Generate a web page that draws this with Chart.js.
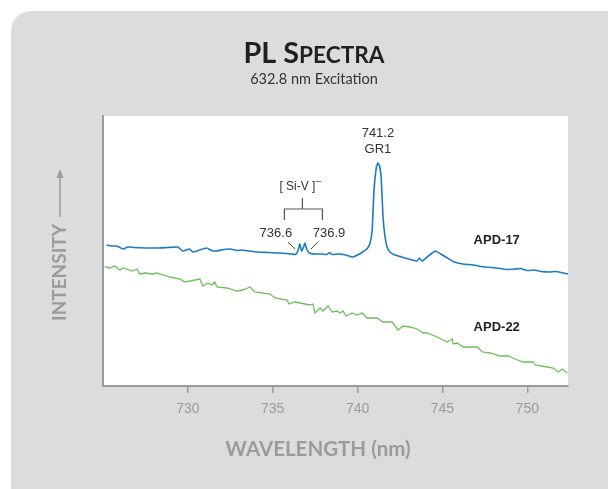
<!DOCTYPE html>
<html>
<head>
<meta charset="utf-8">
<script src="https://cdn.jsdelivr.net/npm/chart.js@4.4.1/dist/chart.umd.min.js"></script>
<style>
html,body{margin:0;padding:0;background:#fff;}
#wrap{width:608px;height:489px;position:relative;}
canvas{display:block;}
</style>
</head>
<body>
<div id="wrap"><canvas id="c" width="608" height="489"></canvas></div>
<script>
// ---- Data (wavelength in nm, intensity in arbitrary units) ----
const titleText = 'PL SPECTRA';
const subtitleText = '632.8 nm Excitation';
const xAxisTitle = 'WAVELENGTH (nm)';
const yAxisTitle = 'INTENSITY';
const xTickValues = [730, 735, 740, 745, 750];
const seriesNames = ['APD-17', 'APD-22'];

const apd17Wl = [725.2,725.5,725.8,726.0,726.2,726.45,726.8,727.5,728.2,728.8,729.4,729.7,730.1,730.3,730.7,731.1,731.4,731.7,732.1,732.5,732.9,733.2,733.6,734.1,734.7,735.3,735.8,736.1,736.35,736.5,736.6,736.7,736.8,736.9,737.0,737.15,737.5,737.9,738.2,738.35,738.5,738.9,739.3,739.7,740.0,740.3,740.6,740.75,740.86,740.97,741.1,741.2,741.3,741.39,741.5,741.62,741.74,741.9,742.2,742.6,743.0,743.5,743.65,743.8,744.1,744.4,744.6,744.9,745.3,745.7,746.2,746.8,747.5,748.2,748.8,749.3,749.6,750.0,750.4,750.8,751.3,751.7,752.4];
const apd17Int = [141,140,140,138.5,137,139,138.5,138,138,138.5,139,135,137,134,136,138,135.5,135,136.5,137,135.5,136,135,134,133.5,133,132.5,132,131.5,136,142,135,138,143,137,133,132,132,131.5,133.5,131.5,132,131,129,131,134,138,144,156,196,218,223,220,209,169,149,139,134,131,129,127,125,128,125,129,133,135,132,128,124,122,121,119,118,116.5,117,117.5,115.5,116,114.5,114,114.5,112];

const apd22Wl = [725.10,725.40,725.69,725.99,726.17,726.76,726.99,727.17,727.46,727.94,728.17,728.94,729.53,729.82,730.71,730.88,731.18,731.42,731.59,731.71,732.30,732.89,733.24,733.66,733.95,734.84,735.13,735.84,735.96,736.31,736.61,737.20,737.37,737.49,737.79,737.96,738.26,738.50,738.79,738.97,739.14,739.32,739.68,739.97,740.27,740.56,741.15,741.50,742.04,742.39,742.68,743.10,743.51,743.86,744.10,744.69,745.28,745.58,745.63,745.87,746.22,747.05,747.35,747.82,748.41,748.88,749.29,749.76,750.35,750.47,751.18,751.53,751.83,752.06,752.36];
const apd22Int = [119.3,118,120,116,118,115,117,112,113,112,113,109,107,104,107,100,103,101,104,99,98,95,96,99,94,92,88,86,82,84,83,81,82,73,78,75,80,74,75,73,75,70,73,71,73,68,68,64,64,56,60,59,57,53,53,49,44,47,42,43,39,39,34,33,30,30,27,24,24,21,19,18,14,17,13];

// Annotated peaks
const grPeakWl = 741.2;
const siVPeaksWl = [736.6, 736.9];

const toPoints = (xs, ys) => xs.map((x, i) => ({x: x, y: ys[i]}));

const FONT_SANS = "'Liberation Sans', Arial, sans-serif";
const FONT_TITLE = "Lato, 'Open Sans', sans-serif";

const decorPlugin = {
  id: 'decor',
  beforeDraw(chart) {
    const {ctx, chartArea: a} = chart;
    ctx.save();
    ctx.fillStyle = '#ffffff';
    ctx.fillRect(0, 0, chart.width, chart.height);
    ctx.fillStyle = '#dcdcde';
    ctx.beginPath();
    ctx.roundRect(11, 11, 640, 540, 20);
    ctx.fill();
    ctx.fillStyle = '#ffffff';
    ctx.fillRect(a.left, a.top, a.right - a.left, a.bottom - a.top);
    ctx.restore();
  },
  afterDraw(chart) {
    const {ctx} = chart;
    const xs = chart.scales.x;
    ctx.save();

    // Title with small caps
    const parts = [{t: 'PL S', s: 28}, {t: 'PECTRA', s: 22}];
    let total = 0;
    parts.forEach(p => { ctx.font = `bold ${p.s}px ${FONT_TITLE}`; p.w = ctx.measureText(p.t).width; total += p.w; });
    const k = 141 / total;
    let tx = 314 - 141 / 2;
    ctx.fillStyle = '#231f20';
    ctx.textBaseline = 'alphabetic';
    ctx.textAlign = 'left';
    parts.forEach(p => { ctx.font = `bold ${p.s * k}px ${FONT_TITLE}`; ctx.fillText(p.t, tx, 63); tx += p.w * k; });

    // Subtitle
    ctx.font = `14.5px ${FONT_TITLE}`;
    ctx.fillStyle = '#333333';
    ctx.textAlign = 'center';
    ctx.textBaseline = 'middle';
    ctx.fillText(subtitleText, 314, 79);

    // X axis title
    ctx.font = `bold 20.5px ${FONT_TITLE}`;
    ctx.fillStyle = '#9b9b9b';
    ctx.fillText(xAxisTitle, 318, 449);

    // Y axis title with arrow
    ctx.save();
    ctx.translate(60, 272.5);
    ctx.rotate(-Math.PI / 2);
    ctx.font = `bold 19px ${FONT_TITLE}`;
    ctx.fillStyle = '#9b9b9b';
    ctx.fillText(yAxisTitle, 0, 0);
    const w = ctx.measureText(yAxisTitle).width;
    ctx.strokeStyle = '#9b9b9b';
    ctx.lineWidth = 1.5;
    ctx.beginPath();
    ctx.moveTo(w / 2 + 7, 0);
    ctx.lineTo(w / 2 + 48, 0);
    ctx.stroke();
    ctx.beginPath();
    ctx.moveTo(w / 2 + 55, 0);
    ctx.lineTo(w / 2 + 46, -3.5);
    ctx.lineTo(w / 2 + 46, 3.5);
    ctx.closePath();
    ctx.fillStyle = '#9b9b9b';
    ctx.fill();
    ctx.restore();

    // GR1 label
    const gx = xs.getPixelForValue(grPeakWl);
    ctx.fillStyle = '#333333';
    ctx.font = `13px ${FONT_SANS}`;
    ctx.fillText(grPeakWl.toFixed(1), gx, 133);
    ctx.fillText('GR1', gx, 149);

    // Si-V bracket
    const p1 = xs.getPixelForValue(siVPeaksWl[0]);
    const p2 = xs.getPixelForValue(siVPeaksWl[1]);
    const mid = (p1 + p2) / 2;
    ctx.font = `12px ${FONT_SANS}`;
    const sv = '[ Si-V ]';
    const svw = ctx.measureText(sv).width;
    ctx.fillText(sv, mid - 5, 187);
    ctx.font = `9px ${FONT_SANS}`;
    ctx.textAlign = 'left';
    ctx.fillText('\u2013', mid - 5 + svw / 2 + 0.5, 182);
    ctx.textAlign = 'center';
    ctx.strokeStyle = '#555555';
    ctx.lineWidth = 1.2;
    ctx.beginPath();
    ctx.moveTo(mid, 198); ctx.lineTo(mid, 209);
    ctx.moveTo(mid - 18, 220); ctx.lineTo(mid - 18, 209); ctx.lineTo(mid + 20, 209); ctx.lineTo(mid + 20, 220);
    ctx.stroke();
    ctx.font = `13px ${FONT_SANS}`;
    ctx.fillStyle = '#333333';
    ctx.fillText(siVPeaksWl[0].toFixed(1), p1 - 24, 233);
    ctx.fillText(siVPeaksWl[1].toFixed(1), p2 + 24, 233);
    ctx.strokeStyle = '#444444';
    ctx.lineWidth = 1;
    ctx.beginPath();
    ctx.moveTo(p1 - 12, 242); ctx.lineTo(p1 - 5, 249);
    ctx.moveTo(p2 + 13, 242); ctx.lineTo(p2 + 6, 249);
    ctx.stroke();

    // Series labels
    ctx.font = `bold 13px ${FONT_SANS}`;
    ctx.fillStyle = '#222222';
    const lx = xs.getPixelForValue(748.2);
    ctx.fillText(seriesNames[0], lx, 240);
    ctx.fillText(seriesNames[1], lx, 327);

    ctx.restore();
  }
};

new Chart(document.getElementById('c'), {
  type: 'line',
  data: {
    datasets: [
      {label: seriesNames[0], data: toPoints(apd17Wl, apd17Int), borderColor: '#1b7bc4', borderWidth: 1.6, pointRadius: 0, tension: 0.15, fill: false},
      {label: seriesNames[1], data: toPoints(apd22Wl, apd22Int), borderColor: '#6dbf5c', borderWidth: 1.3, pointRadius: 0, tension: 0, fill: false}
    ]
  },
  options: {
    responsive: false,
    animation: false,
    devicePixelRatio: 1,
    layout: {padding: {left: 103, right: 40, top: 116, bottom: 0}},
    plugins: {legend: {display: false}, tooltip: {enabled: false}, title: {display: false}},
    scales: {
      x: {
        type: 'linear', min: 725, max: 752.4,
        afterBuildTicks: s => { s.ticks = xTickValues.map(v => ({value: v})); },
        afterFit: s => { s.height = 103; },
        grid: {display: true, drawOnChartArea: false, drawTicks: true, tickLength: 7, color: '#9a9a9a', lineWidth: 1.5},
        border: {display: true, color: '#9a9a9a', width: 2},
        ticks: {color: '#9b9b9b', font: {family: FONT_SANS, size: 14}, padding: 8, maxRotation: 0, autoSkip: false}
      },
      y: {
        type: 'linear', min: 0, max: 270,
        afterFit: s => { s.width = 0; },
        ticks: {display: false},
        grid: {display: false},
        border: {display: true, color: '#9a9a9a', width: 2}
      }
    }
  },
  plugins: [decorPlugin]
});
</script>
</body>
</html>
